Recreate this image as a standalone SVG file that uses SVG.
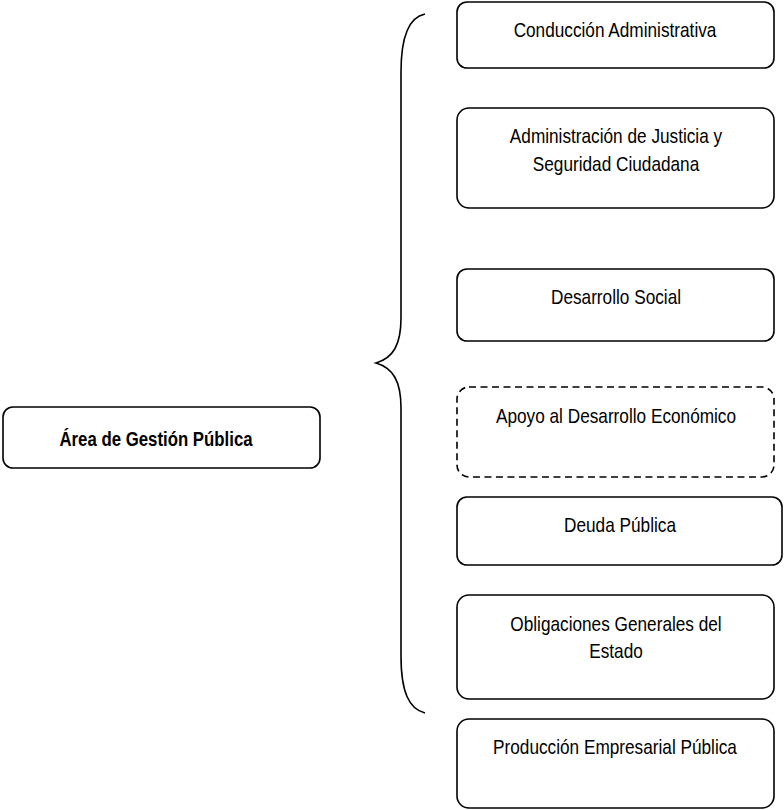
<svg xmlns="http://www.w3.org/2000/svg" width="784" height="810" viewBox="0 0 784 810">
  <style>
    .box { fill: #ffffff; stroke: #000000; stroke-width: 1.6; }
    .dash { stroke-dasharray: 7 4.5; }
    /* condensed sans: regular face squeezed horizontally */
    .lbl { font-family: "Liberation Sans", Arial, sans-serif; font-size: 21px; fill: #000000; text-anchor: middle; }
    .bold { font-weight: bold; }
    .brace { fill: none; stroke: #000000; stroke-width: 1.6; }
  </style>
  <rect width="784" height="810" fill="#ffffff"/>

  <g id="connectors">
    <!-- curly brace grouping the right-hand areas -->
    <path class="brace" d="M425,14 C410,17 401,35 401,72 L401,318 C401,345 393,358 376,363 C393,368 401,381 401,408 L401,656 C401,692 409,709 425,713"/>
  </g>

  <g id="area-gestion-publica">
    <rect class="box" x="3" y="407" width="317" height="61" rx="10"/>
    <text class="lbl bold" transform="translate(156,446) scale(0.8,1)">Área de Gestión Pública</text>
  </g>

  <g id="conduccion-administrativa">
    <rect class="box" x="457" y="2" width="317" height="66" rx="10"/>
    <text class="lbl" transform="translate(615,37) scale(0.82,1)">Conducción Administrativa</text>
  </g>

  <g id="justicia-seguridad">
    <rect class="box" x="457" y="108" width="317" height="100" rx="12"/>
    <text class="lbl" transform="translate(616,143) scale(0.82,1)">Administración de Justicia y</text>
    <text class="lbl" transform="translate(616,171) scale(0.82,1)">Seguridad Ciudadana</text>
  </g>

  <g id="desarrollo-social">
    <rect class="box" x="457" y="269" width="317" height="72" rx="10"/>
    <text class="lbl" transform="translate(616,304) scale(0.82,1)">Desarrollo Social</text>
  </g>

  <g id="apoyo-desarrollo-economico">
    <rect class="box dash" x="457" y="387" width="317" height="90" rx="12"/>
    <text class="lbl" transform="translate(616,423) scale(0.82,1)">Apoyo al Desarrollo Económico</text>
  </g>

  <g id="deuda-publica">
    <rect class="box" x="457" y="497" width="325" height="68" rx="10"/>
    <text class="lbl" transform="translate(620,532) scale(0.82,1)">Deuda Pública</text>
  </g>

  <g id="obligaciones-generales">
    <rect class="box" x="457" y="595" width="317" height="104" rx="12"/>
    <text class="lbl" transform="translate(616,631) scale(0.82,1)">Obligaciones Generales del</text>
    <text class="lbl" transform="translate(616,658) scale(0.82,1)">Estado</text>
  </g>

  <g id="produccion-empresarial">
    <rect class="box" x="457" y="719" width="317" height="89" rx="12"/>
    <text class="lbl" transform="translate(615,754) scale(0.82,1)">Producción Empresarial Pública</text>
  </g>
</svg>
